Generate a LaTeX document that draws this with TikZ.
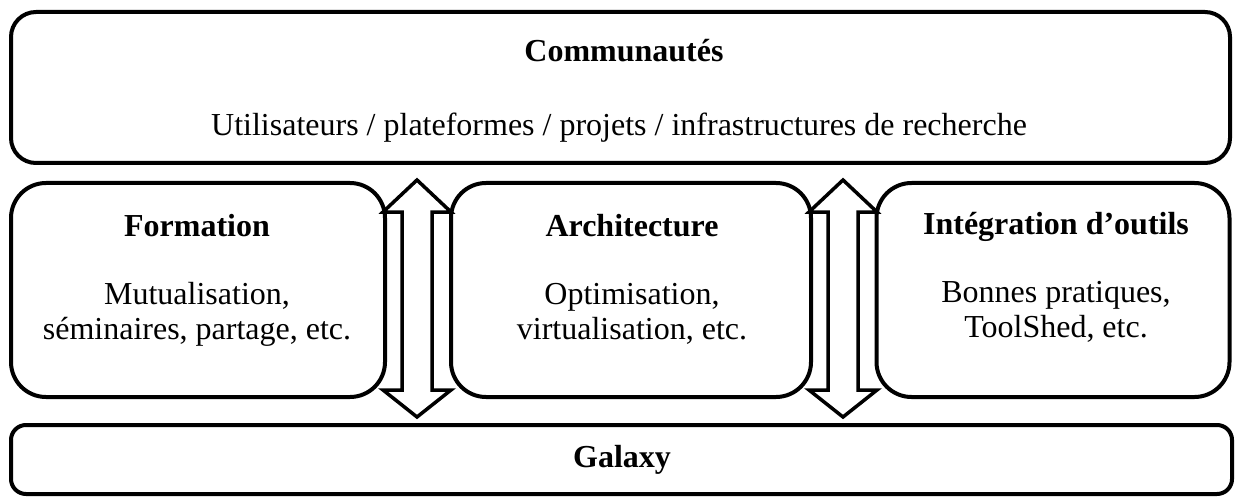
\documentclass[tikz,border=0pt]{standalone}
\usepackage{fontspec}
\setmainfont{Liberation Serif}
\begin{document}
\begin{tikzpicture}[x=1pt,y=-1pt,line join=round,
  box/.style={draw,line width=4pt,inner sep=0pt,rounded corners=#1},
  txt/.style={anchor=base,inner sep=0pt,font=\fontsize{32}{35}\selectfont},
  ttl/.style={txt,font=\fontsize{32}{35}\selectfont\bfseries},
  blockarrow/.style={draw,fill=white,line width=3.5pt,line join=miter}]
\useasboundingbox (0,0) rectangle (1236,497);
% boxes
\node[box=25pt,minimum width=1219pt,minimum height=151pt] (comm) at (620.5,87.5) {};
\node[box=35pt,minimum width=374pt,minimum height=214pt] (form) at (198,290) {};
\node[box=35pt,minimum width=360pt,minimum height=214pt] (arch) at (631,290) {};
\node[box=35pt,minimum width=353pt,minimum height=214pt] (integ) at (1053,290) {};
\node[box=15pt,minimum width=1221pt,minimum height=69pt] (gal) at (621.5,459.5) {};
% texts
\node[ttl] (commT) at (624,62) {Communautés};
\node[txt] (commS) at (619,136) {Utilisateurs / plateformes / projets / infrastructures de recherche};
\node[ttl] (formT) at (197,236) {Formation};
\node[txt] (formS1) at (197,304) {Mutualisation,};
\node[txt] (formS2) at (197,339) {séminaires, partage, etc.};
\node[ttl] (archT) at (632,236) {Architecture};
\node[txt] (archS1) at (632,304) {Optimisation,};
\node[txt] (archS2) at (632,339) {virtualisation, etc.};
\node[ttl] (integT) at (1056,234) {Intégration d’outils};
\node[txt] (integS1) at (1056,302) {Bonnes pratiques,};
\node[txt] (integS2) at (1056,337) {ToolShed, etc.};
\node[ttl] (galT) at (622,467) {Galaxy};
% double arrows
\coordinate (a1) at (417,0);
\coordinate (a2) at (843,0);
\foreach \c in {a1,a2}{
  \draw[blockarrow] ([xshift=0pt]\c |- 0,180) -- ([xshift=34pt]\c |- 0,212) -- ([xshift=15pt]\c |- 0,212)
    -- ([xshift=15pt]\c |- 0,390) -- ([xshift=34pt]\c |- 0,390) -- ([xshift=0pt]\c |- 0,417)
    -- ([xshift=-34pt]\c |- 0,390) -- ([xshift=-15pt]\c |- 0,390) -- ([xshift=-15pt]\c |- 0,212)
    -- ([xshift=-34pt]\c |- 0,212) -- cycle;
}
\end{tikzpicture}
\end{document}
